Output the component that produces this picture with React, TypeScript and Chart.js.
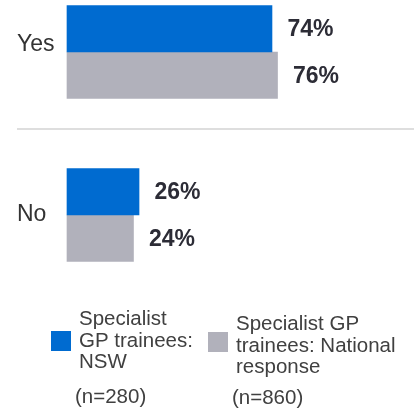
import React, { useEffect, useRef } from 'react';
import { Chart, registerables } from 'chart.js';

Chart.register(...registerables);

// ---- Data ----
const categories = ['Yes', 'No'];
const nswValues = [74, 26];
const nationalValues = [76, 24];
const seriesLabels = ['Specialist GP trainees: NSW', 'Specialist GP trainees: National response'];
const legendLines = [
  ['Specialist', 'GP trainees:', 'NSW'],
  ['Specialist GP', 'trainees: National', 'response'],
];
const sampleSizes = ['(n=280)', '(n=860)'];
const seriesColors = ['#006BD0', '#B1B1BB'];

const FONT = '"Liberation Sans", Arial, Helvetica, sans-serif';

const valueLabelPlugin = {
  id: 'valueLabels',
  afterDatasetsDraw(chart: any) {
    const ctx = chart.ctx;
    ctx.save();
    ctx.font = `bold 23px ${FONT}`;
    ctx.fillStyle = '#2C2C36';
    ctx.textAlign = 'left';
    ctx.textBaseline = 'middle';
    chart.data.datasets.forEach((ds: any, di: number) => {
      const meta = chart.getDatasetMeta(di);
      meta.data.forEach((bar: any, i: number) => {
        ctx.fillText(`${ds.data[i]}%`, bar.x + 15.5, bar.y + 1);
      });
    });
    ctx.restore();
  },
};

const separatorPlugin = {
  id: 'separator',
  beforeDatasetsDraw(chart: any) {
    const ctx = chart.ctx;
    const y0 = chart.scales.y.getPixelForValue(0);
    const y1 = chart.scales.y.getPixelForValue(1);
    const y = (y0 + y1) / 2 - 4.5;
    ctx.save();
    ctx.strokeStyle = '#DEDEDE';
    ctx.lineWidth = 2;
    ctx.beginPath();
    ctx.moveTo(17, y);
    ctx.lineTo(chart.width, y);
    ctx.stroke();
    ctx.restore();
  },
};

const legendPlugin = {
  id: 'customLegend',
  afterDraw(chart: any) {
    const ctx = chart.ctx;
    ctx.save();
    const items = [
      { box: [51, 331], textX: 79, base: 325, nX: 75, nBase: 403 },
      { box: [208, 332], textX: 236, base: 330, nX: 232, nBase: 404 },
    ];
    items.forEach((it, i) => {
      ctx.fillStyle = seriesColors[i];
      ctx.fillRect(it.box[0], it.box[1], 20, 20);
      ctx.fillStyle = '#404040';
      ctx.font = `20.5px ${FONT}`;
      ctx.textAlign = 'left';
      ctx.textBaseline = 'alphabetic';
      legendLines[i].forEach((line, j) => {
        ctx.fillText(line, it.textX, it.base + j * 21.7);
      });
      ctx.fillText(sampleSizes[i], it.nX, it.nBase);
    });
    ctx.restore();
  },
};

export default function App() {
  const canvasRef = useRef<HTMLCanvasElement | null>(null);

  useEffect(() => {
    if (!canvasRef.current) return;
    const chart = new Chart(canvasRef.current, {
      type: 'bar',
      data: {
        labels: categories,
        datasets: [
          {
            label: seriesLabels[0],
            data: nswValues,
            backgroundColor: seriesColors[0],
            barThickness: 46.5,
            clip: false as any,
          },
          {
            label: seriesLabels[1],
            data: nationalValues,
            backgroundColor: seriesColors[1],
            barThickness: 46.5,
            clip: false as any,
          },
        ],
      },
      options: {
        indexAxis: 'y',
        animation: false,
        responsive: true,
        maintainAspectRatio: false,
        layout: { padding: { left: 17, right: 70, top: 52, bottom: 194 } },
        plugins: {
          legend: { display: false },
          tooltip: { enabled: false },
        },
        scales: {
          x: {
            display: false,
            min: 0,
            max: 100,
          },
          y: {
            offset: false,
            grid: { display: false },
            border: { display: false },
            ticks: {
              crossAlign: 'far',
              color: '#333333',
              font: { family: FONT, size: 23, lineHeight: '15px' as any },
              callback: (_v: any, i: number) => (i === 0 ? [categories[i], ''] : categories[i]),
            },
            afterFit: (scale: any) => {
              scale.width = 50;
            },
          },
        },
      },
      plugins: [separatorPlugin, valueLabelPlugin, legendPlugin],
    });
    return () => chart.destroy();
  }, []);

  return (
    <div style={{ position: 'absolute', left: 0, top: 0, width: 414, height: 409, background: '#fff' }}>
      <canvas ref={canvasRef} />
    </div>
  );
}
